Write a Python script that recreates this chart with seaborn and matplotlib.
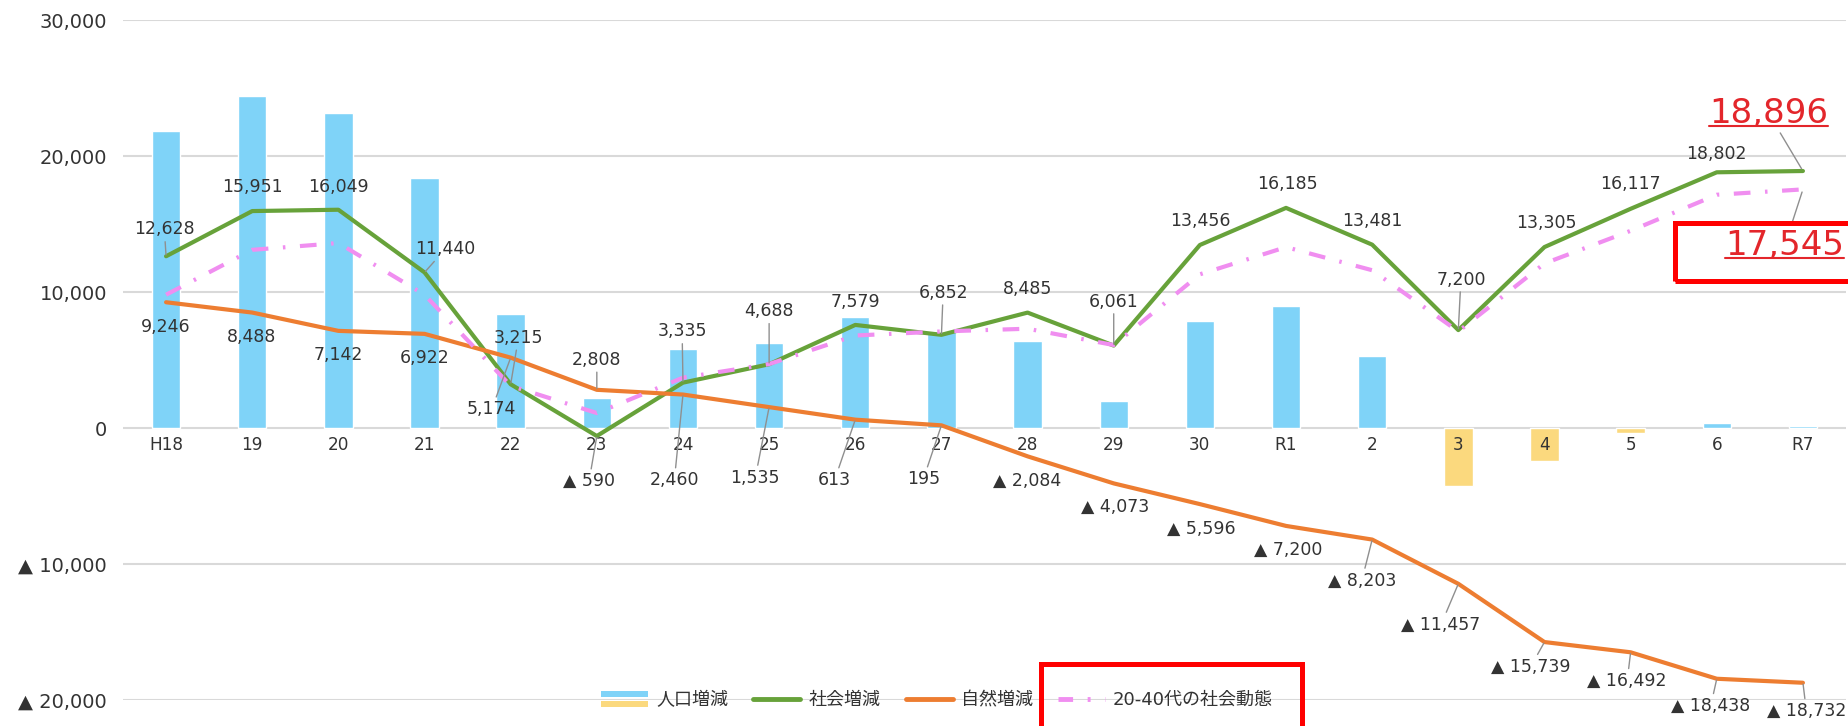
import numpy as np
import pandas as pd
import matplotlib
matplotlib.use("Agg")
import matplotlib.pyplot as plt
import matplotlib.text as mtext
import seaborn as sns
from matplotlib.patches import Rectangle
from matplotlib.lines import Line2D
from matplotlib.legend_handler import HandlerBase
from matplotlib.ticker import FuncFormatter
from matplotlib.transforms import IdentityTransform

# --- data ---
years = ["H18", "19", "20", "21", "22", "23", "24", "25", "26", "27",
         "28", "29", "30", "R1", "2", "3", "4", "5", "6", "R7"]
population = [21874, 24439, 23191, 18362, 8389, 2218, 5795, 6223, 8192, 7047,
              6401, 1988, 7860, 8985, 5278, -4257, -2434, -375, 364, 164]
social = [12628, 15951, 16049, 11440, 3215, -590, 3335, 4688, 7579, 6852,
          8485, 6061, 13456, 16185, 13481, 7200, 13305, 16117, 18802, 18896]
natural = [9246, 8488, 7142, 6922, 5174, 2808, 2460, 1535, 613, 195,
           -2084, -4073, -5596, -7200, -8203, -11457, -15739, -16492, -18438, -18732]
young = [9800, 13100, 13600, 9800, 3100, 1100, 3700, 4700, 6800, 7100,
         7300, 6100, 11300, 13300, 11600, 7100, 12100, 14500, 17150, 17545]
y_ticks = [30000, 20000, 10000, 0, -10000, -20000]
legend_labels = ["人口増減", "社会増減", "自然増減", "20-40代の社会動態"]

# label placement (x index, y value) and whether a leader line is drawn
social_spots = [(-0.02, 14600), (1.0, 17700), (2.0, 17750), (3.24, 13150), (4.09, 6630),
                (4.91, -3910), (5.99, 7100), (7.0, 8580), (8.0, 9290), (9.02, 9950),
                (10.0, 10230), (11.0, 9300), (12.0, 15200), (13.02, 17920), (14.0, 15200),
                (15.03, 10910), (16.02, 15100), (17.0, 17920), (18.0, 20130), None]
social_leads = [1, 0, 0, 1, 1, 1, 1, 1, 0, 1, 0, 1, 0, 0, 0, 1, 0, 0, 0, 0]
natural_spots = [(0.0, 7450), (0.99, 6700), (2.0, 5380), (3.0, 5150), (3.78, 1380),
                 (5.0, 5010), (5.9, -3830), (6.84, -3640), (7.76, -3830), (8.79, -3760),
                 (10.0, -3880), (11.02, -5820), (12.02, -7390), (13.02, -8930), (13.88, -11210),
                 (14.8, -14450), (15.84, -17550), (16.96, -18590), (17.93, -20430), (19.04, -20800)]
natural_leads = [0, 0, 0, 0, 1, 1, 1, 1, 1, 1, 0, 0, 0, 0, 1, 1, 1, 1, 1, 1]

BLUE = "#7fd3f8"
YELLOW = "#fbd97e"
GREEN = "#67a23a"
ORANGE = "#ed7d31"
PINK = "#f08ef0"
GRID = "#d9d9d9"
TEXT = "#333333"
LEADER = "#8f8f8f"
RED = "#ff0000"
RED_TXT = "#e3262b"

sns.set_theme(style="white")
plt.rcParams["font.family"] = ["DejaVu Sans", "Noto Sans CJK JP"]

fig = plt.figure(figsize=(18.49, 7.26), dpi=100)
ax = fig.add_axes([123 / 1849, 26 / 726, (1846 - 123) / 1849, (700 - 20) / 726])

for v in y_ticks:
    ax.axhline(v, color=GRID, lw=1.5, zorder=0.5)

df = pd.DataFrame({"year": years, "value": population})
df["sign"] = np.where(df["value"] >= 0, "pos", "neg")
sns.barplot(data=df, x="year", y="value", hue="sign", order=years,
            palette={"pos": BLUE, "neg": YELLOW}, dodge=False, width=0.33,
            saturation=1, errorbar=None, legend=False, ax=ax, zorder=2)

xpos = np.arange(len(years))
sns.lineplot(x=xpos, y=social, color=GREEN, lw=3, ax=ax, zorder=3)
sns.lineplot(x=xpos, y=natural, color=ORANGE, lw=3, ax=ax, zorder=3)
sns.lineplot(x=xpos, y=young, color=PINK, lw=3, linestyle=(0, (4, 3.5, 0.6, 3.5)),
             ax=ax, zorder=4)

ax.set_xlim(-0.5, 19.5)
ax.set_ylim(-20000, 30000)
ax.set_yticks(y_ticks)
ax.yaxis.set_major_formatter(FuncFormatter(lambda v, p: f"{v:,.0f}" if v >= 0 else f"▲ {-v:,.0f}"))
ax.set_xlabel("")
ax.set_ylabel("")
for s in ["top", "right", "left"]:
    ax.spines[s].set_visible(False)
ax.spines["bottom"].set_position(("data", 0))
ax.spines["bottom"].set_visible(False)
ax.xaxis.set_zorder(2.5)
ax.tick_params(axis="y", length=0, pad=11.5, labelsize=14, labelcolor="#333333")
ax.tick_params(axis="x", length=0, pad=6, labelsize=12.2, labelcolor="#333333")


def fmt_label(v):
    return f"{v:,}" if v >= 0 else f"▲ {-v:,}"


def draw_labels(values, spots, leads):
    for i, (v, spot, lead) in enumerate(zip(values, spots, leads)):
        if spot is None:
            continue
        arrow = dict(arrowstyle="-", color=LEADER, lw=1.0, shrinkA=0, shrinkB=1) if lead else None
        ax.annotate(fmt_label(v), xy=(i, v), xytext=spot, textcoords="data",
                    ha="center", va="center", fontsize=12.5, color=TEXT,
                    arrowprops=arrow, zorder=5, annotation_clip=False)


draw_labels(social, social_spots, social_leads)
draw_labels(natural, natural_spots, natural_leads)

# highlighted values for R7
big = []
for v, spot in [(social[-1], (18.6, 23150)), (young[-1], (18.79, 13450))]:
    t = ax.annotate(f"{v:,}", xy=(len(years) - 1, v), xytext=spot, textcoords="data",
                    ha="center", va="center", fontsize=24.5, color=RED_TXT,
                    arrowprops=dict(arrowstyle="-", color=LEADER, lw=1.0, shrinkA=0, shrinkB=2),
                    zorder=5, annotation_clip=False)
    big.append(t)

ax.add_patch(Rectangle((17.51, 10790), 2.3, 15045 - 10790, fill=False, ec=RED, lw=3.6,
                       clip_on=False, zorder=6))
ax.add_patch(Rectangle((10.16, -22300), 13.18 - 10.16, -17330 + 22300, fill=False, ec=RED,
                       lw=3.6, clip_on=False, zorder=6))


class BarPairHandler(HandlerBase):
    def create_artists(self, legend, orig_handle, xdescent, ydescent, width, height, fontsize, trans):
        h = height * 0.45
        top = Rectangle((-xdescent, -ydescent + height * 0.62), width, h, fc=BLUE, ec="none",
                        transform=trans)
        bottom = Rectangle((-xdescent, -ydescent - height * 0.12), width, h, fc=YELLOW, ec="none",
                           transform=trans)
        return [top, bottom]


bar_key = Rectangle((0, 0), 1, 1)
handles = [bar_key,
           Line2D([], [], color=GREEN, lw=3.5),
           Line2D([], [], color=ORANGE, lw=3.5),
           Line2D([], [], color=PINK, lw=3.5, linestyle=(0, (3, 3, 0.6, 3)))]
ax.legend(handles, legend_labels, handler_map={bar_key: BarPairHandler()},
          loc="center", bbox_to_anchor=(0.4724, 0.0), ncol=4, frameon=False,
          fontsize=13, handlelength=2.6, handletextpad=0.45, columnspacing=1.4,
          labelcolor="#333333")

# underline the red values
fig.canvas.draw()
for t in big:
    bb = mtext.Text.get_window_extent(t)
    y = bb.y0 + 4
    fig.add_artist(Line2D([bb.x0, bb.x1], [y, y], transform=IdentityTransform(),
                          color=RED_TXT, lw=1.5))

fig.savefig("out.png", dpi=100)
